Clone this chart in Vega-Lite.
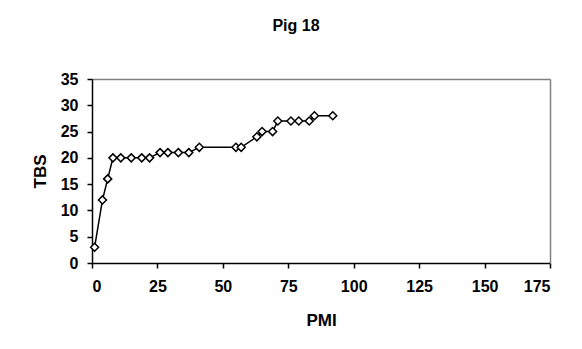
{
  "$schema": "https://vega.github.io/schema/vega-lite/v6.json",
  "width": 458,
  "height": 184,
  "autosize": {"type": "none"},
  "padding": {"left": 92, "top": 79, "right": 32, "bottom": 86},
  "background": "white",
  "title": {"text": "Pig 18", "anchor": "middle", "dx": -25, "offset": 37, "fontSize": 16, "font": "Liberation Sans", "fontWeight": "bold", "color": "black"},
  "data": {"values": [
    {"PMI": 1, "TBS": 3}, {"PMI": 4, "TBS": 12}, {"PMI": 6, "TBS": 16}, {"PMI": 8, "TBS": 20},
    {"PMI": 11, "TBS": 20}, {"PMI": 15, "TBS": 20}, {"PMI": 19, "TBS": 20}, {"PMI": 22, "TBS": 20},
    {"PMI": 26, "TBS": 21}, {"PMI": 29, "TBS": 21}, {"PMI": 33, "TBS": 21}, {"PMI": 37, "TBS": 21},
    {"PMI": 41, "TBS": 22}, {"PMI": 55, "TBS": 22}, {"PMI": 57, "TBS": 22}, {"PMI": 63, "TBS": 24},
    {"PMI": 65, "TBS": 25}, {"PMI": 69, "TBS": 25}, {"PMI": 71, "TBS": 27}, {"PMI": 76, "TBS": 27},
    {"PMI": 79, "TBS": 27}, {"PMI": 83, "TBS": 27}, {"PMI": 85, "TBS": 28}, {"PMI": 92, "TBS": 28}
  ]},
  "layer": [
    {
      "mark": {"type": "line", "color": "black", "strokeWidth": 1.5},
      "encoding": {
        "x": {"field": "PMI", "type": "quantitative", "scale": {"domain": [0, 175], "nice": false},
          "axis": {"orient": "top", "title": null, "labels": false, "ticks": false, "grid": false, "domainColor": "#808080", "domainWidth": 1.5}},
        "y": {"field": "TBS", "type": "quantitative", "scale": {"domain": [0, 35], "nice": false},
          "axis": {"orient": "right", "title": null, "labels": false, "ticks": false, "grid": false, "domainColor": "#808080", "domainWidth": 1.5}}
      }
    },
    {
      "mark": {"type": "point", "shape": "diamond", "filled": true, "fill": "white", "stroke": "black", "strokeWidth": 1.5, "size": 64, "opacity": 1},
      "encoding": {
        "x": {"field": "PMI", "type": "quantitative", "scale": {"domain": [0, 175], "nice": false},
          "axis": {"orient": "bottom", "values": [0, 25, 50, 75, 100, 125, 150, 175], "title": "PMI", "grid": false, "labelPadding": 10, "titlePadding": 18}},
        "y": {"field": "TBS", "type": "quantitative", "scale": {"domain": [0, 35], "nice": false},
          "axis": {"orient": "left", "values": [0, 5, 10, 15, 20, 25, 30, 35], "title": "TBS", "grid": false, "labelPadding": 9, "titlePadding": 11}}
      }
    }
  ],
  "resolve": {"axis": {"x": "independent", "y": "independent"}},
  "config": {
    "view": {"stroke": null},
    "axis": {
      "labelFont": "Liberation Sans", "labelFontSize": 16, "labelFontWeight": "bold", "labelColor": "black",
      "titleFont": "Liberation Sans", "titleFontSize": 17, "titleFontWeight": "bold", "titleColor": "black",
      "domainColor": "black", "domainWidth": 1.5, "tickColor": "black", "tickWidth": 1.5, "tickSize": 5
    }
  }
}
